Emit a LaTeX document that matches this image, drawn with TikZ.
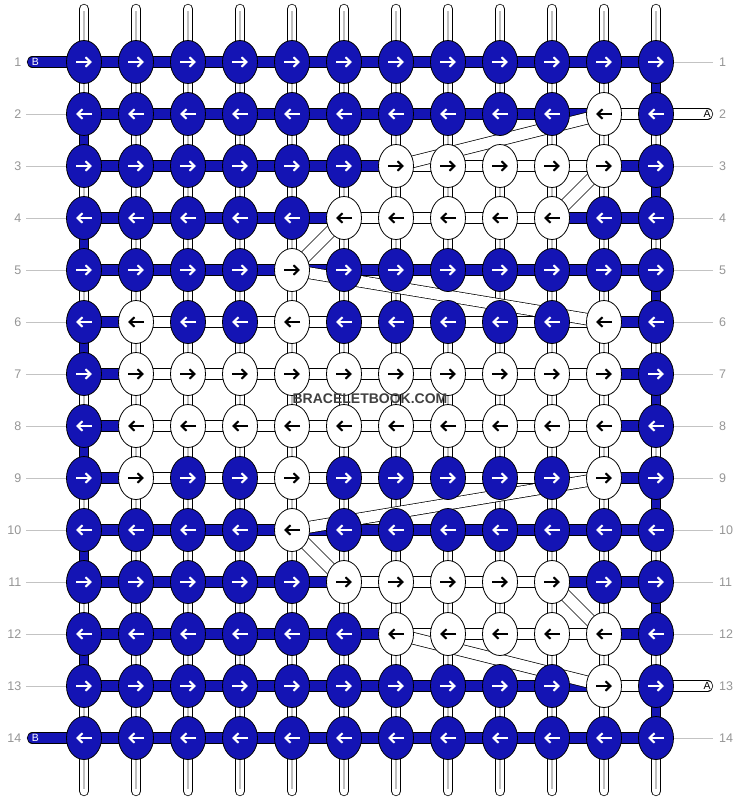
\documentclass[tikz,border=0pt]{standalone}
\usepackage{fontspec}
\setmainfont{Liberation Sans}
\usetikzlibrary{shapes.geometric}
\usetikzlibrary{arrows.meta}
\definecolor{beadblue}{RGB}{20,20,180}
\definecolor{labelgray}{RGB}{150,150,150}
\definecolor{guidegray}{RGB}{195,195,195}
\pgfdeclarelayer{back}
\pgfdeclarelayer{mid}
\pgfsetlayers{back,mid,main}

\tikzset{
  knot/.style={ellipse, draw=black, line width=0.8pt, minimum width=35pt, minimum height=43pt, inner sep=0pt},
  knotb/.style={knot, fill=beadblue},
  knotw/.style={knot, fill=white},
  arrb/.style={white, line width=2.1pt, -{Straight Barb[length=5pt,width=9.5pt]}},
  arrw/.style={black, line width=2.1pt, -{Straight Barb[length=5pt,width=9.5pt]}},
  segb/.style={draw=black, line width=0.75pt, double=beadblue, double distance=9.8pt},
  segw/.style={draw=black, line width=0.75pt, double=white, double distance=9.8pt},
  warp/.style={draw=black, line width=0.75pt, double=white, double distance=8.8pt},
  warpb/.style={draw=black, line width=0.75pt, double=beadblue, double distance=8.8pt},
  core/.style={draw=black!25, line width=1.5pt},
  float/.style={draw=black, line width=0.7pt, double=white, double distance=11pt},
  guide/.style={draw=guidegray, line width=0.8pt},
  rowno/.style={text=labelgray, font=\fontsize{12.5}{12.5}\selectfont, inner sep=0pt},
  leadtext/.style={font=\fontsize{10.5}{10.5}\selectfont, inner sep=0pt},
  wmark/.style={text=black!75, font=\bfseries\fontsize{14}{14}\selectfont, inner sep=0pt}
}

% #1 row, #2 direction, #3 knot colours, #4 colours of the strand between knots
\newcommand\knotrow[4]{%
  \foreach \k [count=\c] in {#3}
    {\node[knot\k] (k#1-\c) at ({84+52*(\c-1)},{62+52*(#1-1)}) {};
     \draw[arr\k] (k#1-\c.center) ++(-8*#2,0) -- ++(16*#2,0);}
  \begin{pgfonlayer}{back}
    \foreach \s [count=\c] in {#4}
      {\pgfmathtruncatemacro\n{\c+1}
       \draw[seg\s] (k#1-\c.center) -- (k#1-\n.center);}
  \end{pgfonlayer}
}

\begin{document}
\begin{tikzpicture}[x=1pt,y=-1pt]
  \useasboundingbox (0,0) rectangle (740,800);
  \begin{pgfonlayer}{back}
    \fill[white] (0,0) rectangle (740,800);
  \end{pgfonlayer}

  \knotrow{1}{1}{b,b,b,b,b,b,b,b,b,b,b,b}{b,b,b,b,b,b,b,b,b,b,b}
  \knotrow{2}{-1}{b,b,b,b,b,b,b,b,b,b,w,b}{b,b,b,b,b,b,b,b,b,b,w}
  \knotrow{3}{1}{b,b,b,b,b,b,w,w,w,w,w,b}{b,b,b,b,b,b,w,w,w,w,b}
  \knotrow{4}{-1}{b,b,b,b,b,w,w,w,w,w,b,b}{b,b,b,b,b,w,w,w,w,b,b}
  \knotrow{5}{1}{b,b,b,b,w,b,b,b,b,b,b,b}{b,b,b,b,b,b,b,b,b,b,b}
  \knotrow{6}{-1}{b,w,b,b,w,b,b,b,b,b,w,b}{b,w,w,w,w,w,w,w,w,w,b}
  \knotrow{7}{1}{b,w,w,w,w,w,w,w,w,w,w,b}{b,w,w,w,w,w,w,w,w,w,b}
  \knotrow{8}{-1}{b,w,w,w,w,w,w,w,w,w,w,b}{b,w,w,w,w,w,w,w,w,w,b}
  \knotrow{9}{1}{b,w,b,b,w,b,b,b,b,b,w,b}{b,w,w,w,w,w,w,w,w,w,b}
  \knotrow{10}{-1}{b,b,b,b,w,b,b,b,b,b,b,b}{b,b,b,b,b,b,b,b,b,b,b}
  \knotrow{11}{1}{b,b,b,b,b,w,w,w,w,w,b,b}{b,b,b,b,b,w,w,w,w,b,b}
  \knotrow{12}{-1}{b,b,b,b,b,b,w,w,w,w,w,b}{b,b,b,b,b,b,w,w,w,w,b}
  \knotrow{13}{1}{b,b,b,b,b,b,b,b,b,b,w,b}{b,b,b,b,b,b,b,b,b,b,w}
  \knotrow{14}{-1}{b,b,b,b,b,b,b,b,b,b,b,b}{b,b,b,b,b,b,b,b,b,b,b}

  % warp strands
  \begin{pgfonlayer}{back}
    \foreach \c in {1,...,12} {
      \draw[warp, line cap=round] (k1-\c.center) -- +(0,-53);
      \draw[core] (k1-\c.center) -- +(0,-51);
      \draw[warp, line cap=round] (k14-\c.center) -- +(0,53);
      \draw[core] (k14-\c.center) -- +(0,51);
    }
    \foreach \r [evaluate=\r as \n using int(\r+1)] in {1,...,13}
      \foreach \c in {2,...,11} {
        \draw[warp] (k\r-\c.center) -- (k\n-\c.center);
        \draw[core] (k\r-\c.center) -- (k\n-\c.center);
      }
    \foreach \r/\n in {1/2,3/4,5/6,7/8,9/10,11/12,13/14} {
      \draw[warpb] (k\r-12.center) -- (k\n-12.center);
      \draw[warp] (k\r-1.center) -- (k\n-1.center);
      \draw[core] (k\r-1.center) -- (k\n-1.center);
    }
    \foreach \r/\n in {2/3,4/5,6/7,8/9,10/11,12/13} {
      \draw[warpb] (k\r-1.center) -- (k\n-1.center);
      \draw[warp] (k\r-12.center) -- (k\n-12.center);
      \draw[core] (k\r-12.center) -- (k\n-12.center);
    }

    % guides to the row numbers
    \foreach \r in {2,...,13}
      \draw[guide] (26,{62+52*(\r-1)}) -- (k\r-1.center);
    \foreach \r in {1,3,4,5,6,7,8,9,10,11,12,14}
      \draw[guide] (k\r-12.center) -- (713,{62+52*(\r-1)});

    % working strands coming in
    \coordinate (endB1) at (32.5,62);
    \coordinate (endB14) at (32.5,738);
    \coordinate (endA2) at (707.5,114);
    \coordinate (endA13) at (707.5,686);
    \draw[segb, line cap=round] (k1-1.center) -- (endB1);
    \draw[segb, line cap=round] (k14-1.center) -- (endB14);
    \draw[segw, line cap=round] (k2-12.center) -- (endA2);
    \draw[segw, line cap=round] (k13-12.center) -- (endA13);
  \end{pgfonlayer}

  % carried strands
  \begin{pgfonlayer}{mid}
    \draw[float] (k2-11.center) -- (k3-7.center);
    \draw[float] (k3-11.center) -- (k4-10.center);
    \draw[float] (k4-6.center) -- (k5-5.center);
    \draw[float] (k5-5.center) -- (k6-11.center);
    \draw[float] (k9-11.center) -- (k10-5.center);
    \draw[float] (k10-5.center) -- (k11-6.center);
    \draw[float] (k11-10.center) -- (k12-11.center);
    \draw[float] (k12-7.center) -- (k13-11.center);
  \end{pgfonlayer}

  \node[leadtext, text=white] (tB1) at (35.5,62) {B};
  \node[leadtext, text=white] (tB14) at (35.5,738) {B};
  \node[leadtext] (tA2) at (707,114) {A};
  \node[leadtext] (tA13) at (707,686) {A};

  \foreach \r in {1,...,14} {
    \node[rowno, anchor=east] (ln\r) at (21.5,{62+52*(\r-1)}) {\r};
    \node[rowno, anchor=west] (rn\r) at (719,{62+52*(\r-1)}) {\r};
  }

  \node[wmark] (wm) at (370,399) {BRACELETBOOK.COM};
\end{tikzpicture}
\end{document}
